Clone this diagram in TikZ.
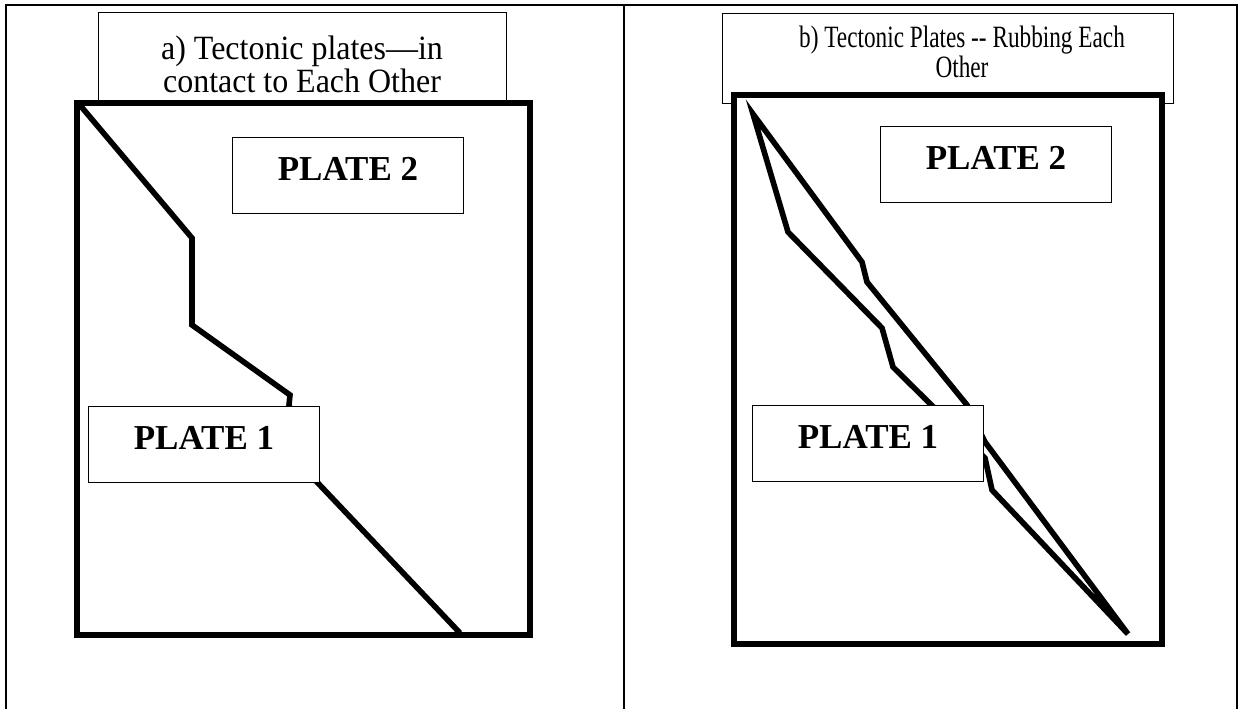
\documentclass[tikz,border=0pt]{standalone}
\usepackage{fontspec}
\setmainfont{Liberation Serif}
\usepackage{graphicx}
\newcommand{\narrowtext}[2]{\scalebox{#1}[1]{\begin{tabular}[t]{@{}c@{}}#2\end{tabular}}}

\begin{document}
\begin{tikzpicture}[x=0.5pt,y=-0.5pt]
    \tikzset{
        tablerule/.style={draw,line width=0.6pt},
        titlebox/.style={draw,fill=white,line width=0.5pt,inner sep=0pt,anchor=north west},
        titletext/.style={inner sep=0pt,anchor=base},
        plateframe/.style={draw,fill=white,line width=2.6pt},
        faultline/.style={draw,line width=2.8pt,line join=miter},
        platebox/.style={
            draw,
            fill=white,
            line width=0.5pt,
            inner sep=0pt,
            anchor=north west,
            minimum width=115.5pt,
            text height=21.25pt,
            text depth=16.75pt,
            font=\fontsize{17.5}{21}\selectfont\bfseries
        }
    }
    \useasboundingbox (0,0) rectangle (1241,709);

    \draw[tablerule] (6,709) -- (6,5) -- (1237,5) -- (1237,709);
    \draw[tablerule] (624,5) -- (624,709);

    % a) plates in contact
    \node[titlebox,minimum width=204pt,minimum height=45.5pt] (boxA) at (98,12) {};
    \node[titletext,font=\fontsize{17}{16.25}\selectfont] (titleA) at (302,59)
        {\narrowtext{0.94}{a) Tectonic plates—in\\contact to Each Other}};
    \draw[plateframe] (77,103) rectangle (530,635);

    \coordinate (a0) at (79,104);
    \coordinate (a1) at (192,238);
    \coordinate (a2) at (192,325);
    \coordinate (a3) at (290,395);
    \coordinate (a4) at (289,405);
    \coordinate (a5) at (316,481);
    \coordinate (a6) at (460,633);
    \draw[faultline] (a0) -- (a1) -- (a2) -- (a3) -- (a4) -- (a5) -- (a6);

    \node[platebox] (plate2A) at (232,137) {PLATE 2};
    \node[platebox] (plate1A) at (88,406) {PLATE 1};

    % b) plates rubbing
    \node[titlebox,minimum width=225.5pt,minimum height=45pt] (boxB) at (722,13) {};
    \node[titletext,font=\fontsize{15.5}{14.65}\selectfont] (titleB) at (962,47)
        {\narrowtext{0.75}{b) Tectonic Plates -\kern0pt- Rubbing Each\\Other}};
    \draw[plateframe] (734,95) rectangle (1162,644);

    \coordinate (tip) at (753,114);
    \coordinate (end) at (1128,634);
    \coordinate (l1) at (788,232);
    \coordinate (l2) at (882,328);
    \coordinate (l3) at (893,367);
    \coordinate (l4) at (985,458);
    \coordinate (l5) at (992,490);
    \coordinate (r1) at (862,262);
    \coordinate (r2) at (867,282);
    \coordinate (r3) at (967,405);
    \coordinate (r4) at (985,442);
    \draw[faultline] (end) -- (l5) -- (l4) -- (l3) -- (l2) -- (l1) -- (tip)
        -- (r1) -- (r2) -- (r3) -- (r4) -- (end);

    \node[platebox] (plate2B) at (880,126) {PLATE 2};
    \node[platebox] (plate1B) at (752,405) {PLATE 1};
\end{tikzpicture}
\end{document}
